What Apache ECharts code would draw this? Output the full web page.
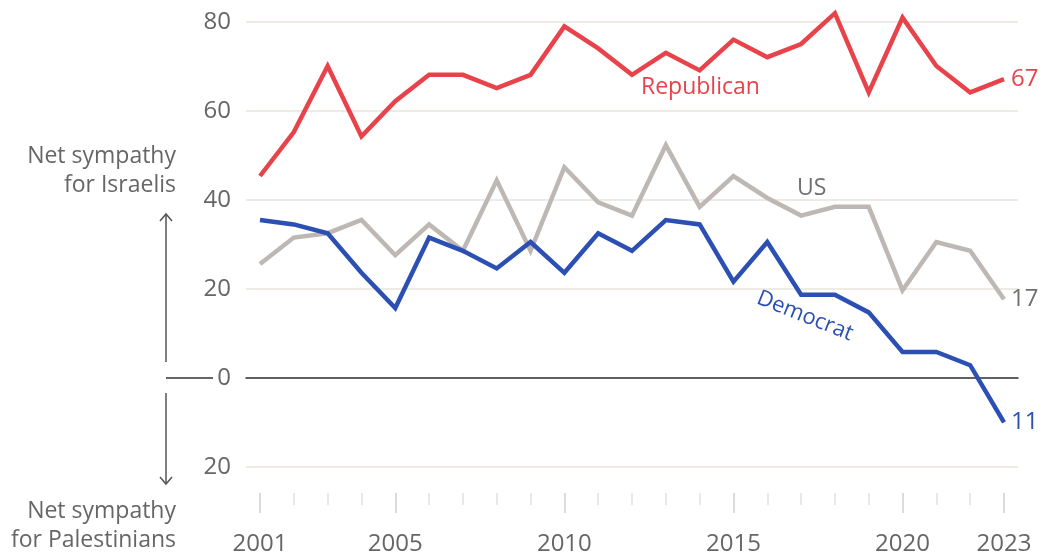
<!DOCTYPE html>
<html>
<head>
<meta charset="utf-8">
<script src="https://cdn.jsdelivr.net/npm/echarts@6/dist/echarts.min.js"></script>
<style>html,body{margin:0;padding:0;background:#fff}#c{width:1044px;height:556px}</style>
</head>
<body>
<div id="c"></div>
<script>
const years = ['2001','2002','2003','2004','2005','2006','2007','2008','2009','2010','2011','2012','2013','2014','2015','2016','2017','2018','2019','2020','2021','2022','2023'];
const labelYears = ['2001','2005','2010','2015','2020','2023'];
const republican = [45,55,70,54,62,68,68,65,68,79,74,68,73,69,76,72,75,82,64,81,70,64,67];
const us = [25,31,32,35,27,34,28,44,28,47,39,36,52,38,45,40,36,38,38,19,30,28,17];
const democrat = [35,34,32,23,15,31,28,24,30,23,32,28,35,34,21,30,18,18,14,5,5,2,-11];
const yMin = -20, yMax = 80, yStep = 20;

const FONT = 'Open Sans';
const RED = '#e8434b', BLUE = '#2c4fb3', GRAY = '#bdb8b4', TXT = '#666', DARKGRAY = '#707070';

const chart = echarts.init(document.getElementById('c'));
const isMajor = (i, v) => labelYears.indexOf(String(v)) >= 0;

function line(name, data, color, labelColor) {
  return {
    name, type: 'line', data, xAxisIndex: 0, yAxisIndex: 0,
    showSymbol: false, symbol: 'none', clip: false,
    lineStyle: { color, width: 4.5, join: 'miter' },
    itemStyle: { color },
    endLabel: { show: true, formatter: p => String(Math.abs(p.value)), color: labelColor, fontSize: 24, fontFamily: FONT, distance: 7 },
    z: 5
  };
}

chart.setOption({
  animation: false,
  textStyle: { fontFamily: FONT },
  grid: [
    { left: 260, right: 40, top: 22, bottom: 89 },
    { left: 246, right: 26, top: 22, bottom: 89 }
  ],
  xAxis: [
    { gridIndex: 0, type: 'category', data: years, boundaryGap: false, position: 'bottom', offset: 31,
      axisLine: { show: false, onZero: false },
      axisTick: { show: true, interval: 0, length: 12, lineStyle: { color: '#e8e8e8', width: 2 } },
      axisLabel: { show: false }, splitLine: { show: false } },
    { gridIndex: 0, type: 'category', data: years, boundaryGap: false, position: 'bottom', offset: 31,
      axisLine: { show: false, onZero: false },
      axisTick: { show: true, interval: isMajor, length: 20, lineStyle: { color: '#dcdcdc', width: 2 } },
      axisLabel: { show: true, interval: isMajor, margin: 39, color: TXT, fontSize: 24, fontFamily: FONT },
      splitLine: { show: false } },
    { gridIndex: 1, type: 'value', min: 0, max: 1, position: 'bottom',
      axisLine: { show: true, onZero: true, lineStyle: { color: '#333', width: 1.5 } },
      axisTick: { show: false }, axisLabel: { show: false }, splitLine: { show: false } }
  ],
  yAxis: [
    { gridIndex: 0, type: 'value', min: yMin, max: yMax, interval: yStep, show: false, splitLine: { show: false } },
    { gridIndex: 1, type: 'value', min: yMin, max: yMax, interval: yStep,
      axisLine: { show: false }, axisTick: { show: false },
      axisLabel: { color: TXT, fontSize: 24, fontFamily: FONT, margin: 15, formatter: v => String(Math.abs(v)) },
      splitLine: { show: true, lineStyle: { color: '#e8e3de', width: 1.5 } } }
  ],
  series: [
    line('US', us, GRAY, DARKGRAY),
    line('Democrat', democrat, BLUE, BLUE),
    line('Republican', republican, RED, RED)
  ],
  graphic: [
    { type: 'text', x: 176, y: 142, style: { text: 'Net sympathy\nfor Israelis', align: 'right', fill: TXT, fontSize: 23, fontFamily: FONT, lineHeight: 29 } },
    { type: 'text', x: 176, y: 497, style: { text: 'Net sympathy\nfor Palestinians', align: 'right', fill: TXT, fontSize: 23, fontFamily: FONT, lineHeight: 29 } },
    { type: 'line', shape: { x1: 166, y1: 214, x2: 166, y2: 362 }, style: { stroke: '#555', lineWidth: 1.5 } },
    { type: 'polyline', shape: { points: [[160, 221], [166, 214], [172, 221]] }, style: { stroke: '#555', lineWidth: 1.5, fill: null } },
    { type: 'line', shape: { x1: 166, y1: 393, x2: 166, y2: 484 }, style: { stroke: '#555', lineWidth: 1.5 } },
    { type: 'polyline', shape: { points: [[160, 477], [166, 484], [172, 477]] }, style: { stroke: '#555', lineWidth: 1.5, fill: null } },
    { type: 'line', shape: { x1: 166, y1: 378, x2: 213, y2: 378 }, style: { stroke: '#333', lineWidth: 1.5 } },
    { type: 'text', x: 641, y: 87, style: { text: 'Republican', fill: RED, fontSize: 23, fontWeight: 500, fontFamily: FONT, verticalAlign: 'middle' } },
    { type: 'text', x: 797, y: 188, style: { text: 'US', fill: DARKGRAY, fontSize: 23, fontFamily: FONT, verticalAlign: 'middle' } },
    { type: 'text', x: 805, y: 316, rotation: -0.38, style: { text: 'Democrat', fill: BLUE, fontSize: 22, fontWeight: 500, fontFamily: FONT, align: 'center', verticalAlign: 'middle' } }
  ]
});
</script>
</body>
</html>
